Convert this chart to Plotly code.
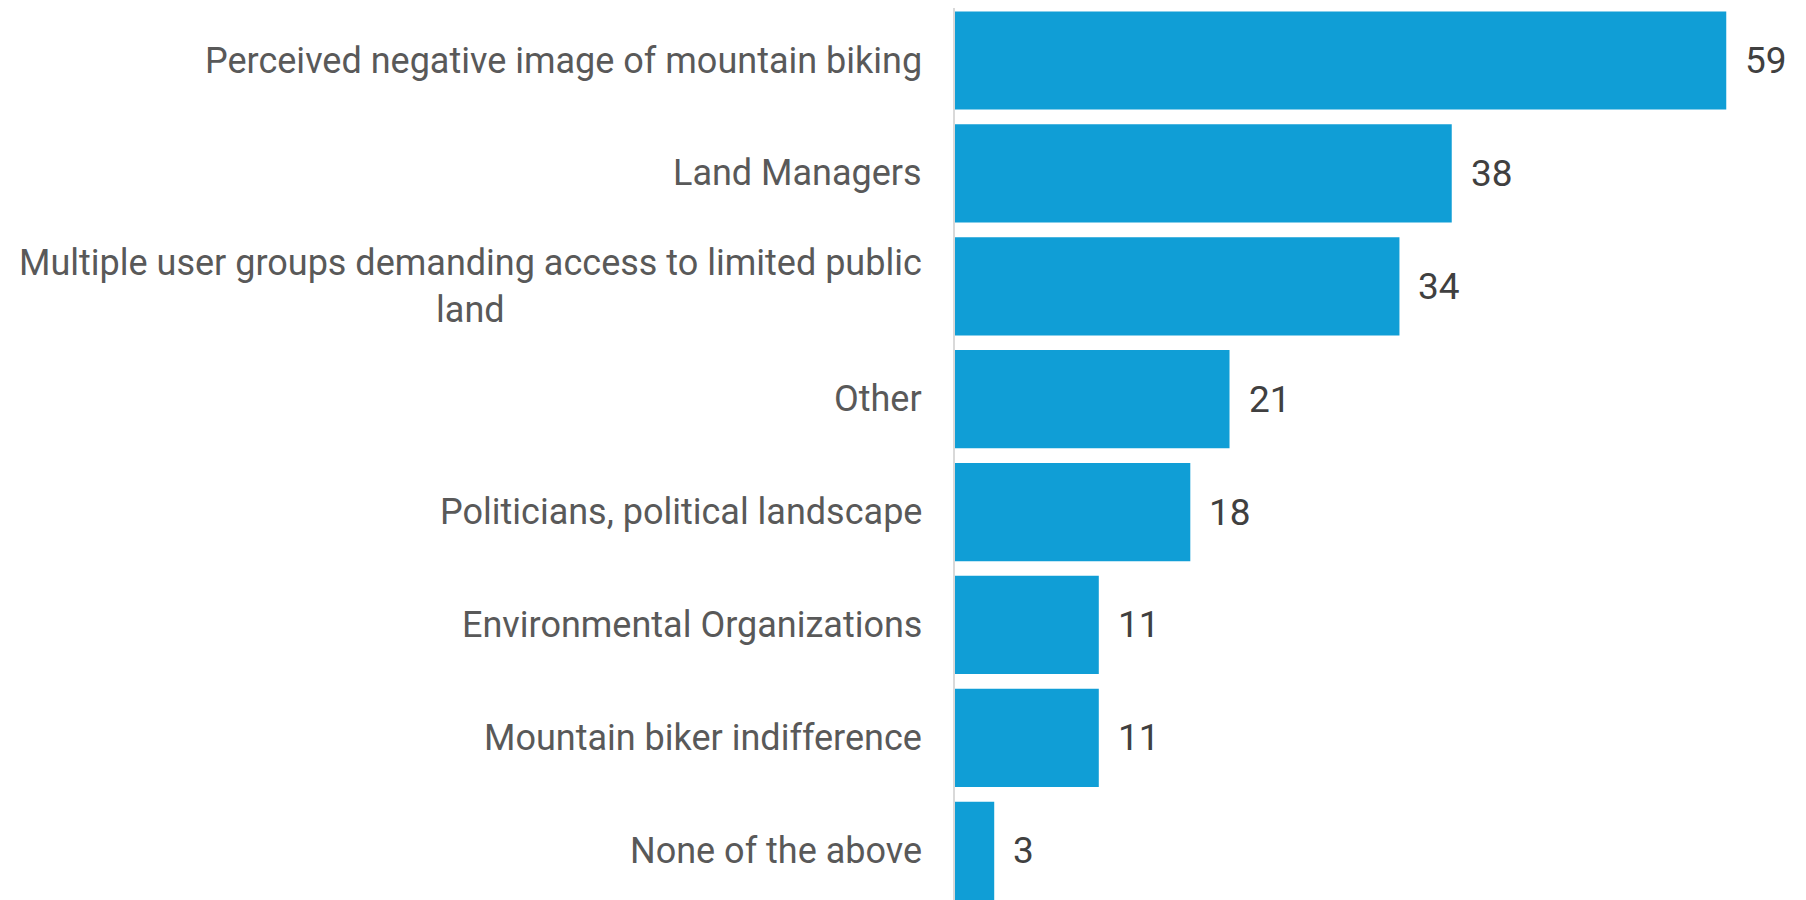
import plotly.graph_objs as go

categories = [
    "Perceived negative image of mountain biking",
    "Land Managers",
    "Multiple user groups demanding access to limited public<br>land",
    "Other",
    "Politicians, political landscape",
    "Environmental Organizations",
    "Mountain biker indifference",
    "None of the above",
]
counts = [59, 38, 34, 21, 18, 11, 11, 3]

BAR_COLOR = '#109ED6'
LABEL_COLOR = '#595959'
VALUE_COLOR = '#404040'
FONT = 'Roboto'

fig = go.Figure()

fig.add_trace(go.Bar(
    x=counts,
    y=categories,
    orientation='h',
    marker=dict(color=BAR_COLOR, line=dict(width=0)),
    hoverinfo='x+y'
))

annotations = []
# category labels (annotations so the wrapped label can be centred)
for cat in categories:
    annotations.append(dict(
        x=0, xref='paper', xanchor='right', xshift=-31,
        y=cat, yref='y', yanchor='middle',
        text=cat, showarrow=False, align='center',
        font=dict(family=FONT, size=36, color=LABEL_COLOR)
    ))
# value labels just right of each bar
for cat, v in zip(categories, counts):
    annotations.append(dict(
        x=v, xref='x', xanchor='left', xshift=17,
        y=cat, yref='y', yanchor='middle',
        text=str(v), showarrow=False,
        font=dict(family=FONT, size=37, color=VALUE_COLOR)
    ))

# page body adds an 8px margin, so the figure is sized to fit inside it
fig.update_layout(
    width=1798,
    height=892,
    margin=dict(l=947, r=0, t=0, b=0),
    bargap=0.13,
    showlegend=False,
    plot_bgcolor='white',
    paper_bgcolor='white',
    font=dict(family=FONT, color=LABEL_COLOR),
    xaxis=dict(
        range=[0, 65.1],
        showgrid=False,
        zeroline=False,
        showticklabels=False,
        showline=False
    ),
    yaxis=dict(
        autorange=False,
        range=[7.436, -0.465],
        showticklabels=False,
        showgrid=False,
        zeroline=False,
        showline=True,
        linecolor='#D9D9D9',
        linewidth=2
    ),
    annotations=annotations
)

fig.write_html("out.html")
